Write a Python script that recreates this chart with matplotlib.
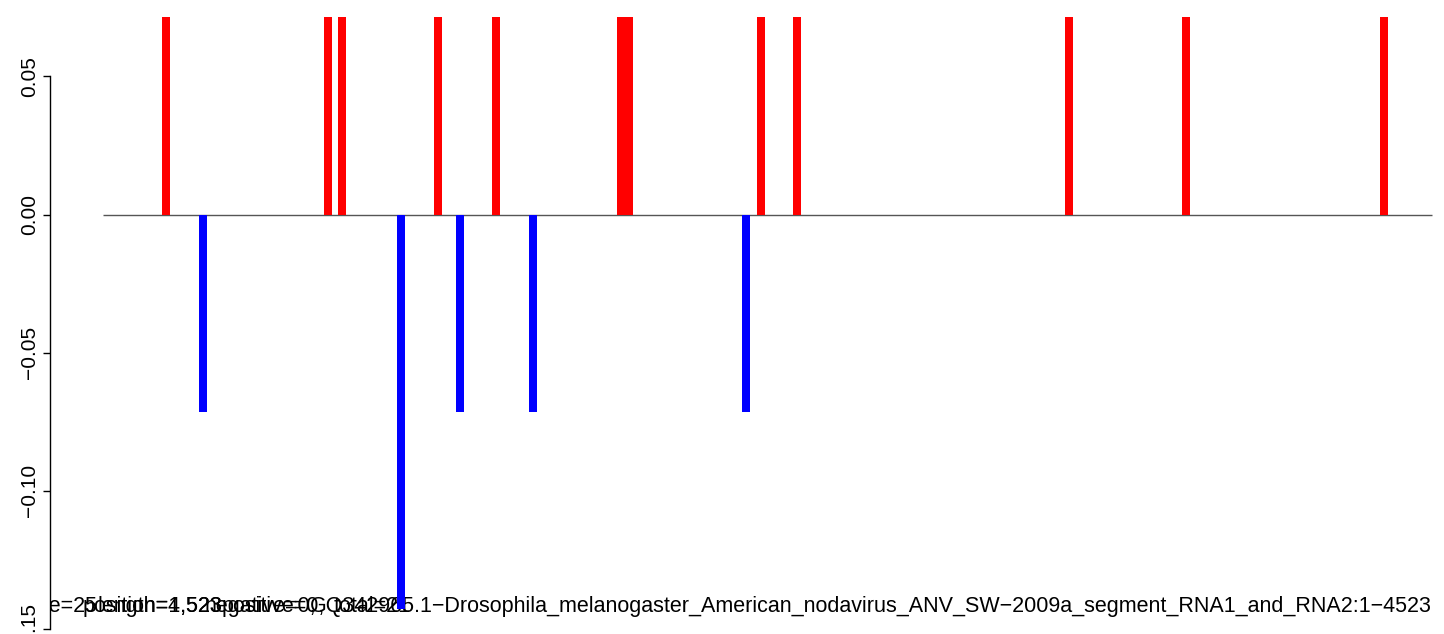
import matplotlib
matplotlib.use("Agg")
import matplotlib.pyplot as plt

# genome positions (bp) and scores
pos_red = [215, 766, 814, 1141, 1338, 1763, 1791, 2240, 2362, 3288, 3686, 4360]
val_red = [0.0714] * len(pos_red)
pos_blue = [341, 1015, 1216, 1464, 2189]
val_blue = [-0.0714, -0.1429, -0.0714, -0.0714, -0.0714]

genome_len = 4523
yticks = [-0.15, -0.10, -0.05, 0.00, 0.05]
ytick_labels = ["\u22120.15", "\u22120.10", "\u22120.05", "0.00", "0.05"]

# overlapping info labels along the bottom
info_txt = ["window size=25", "position=1,523", "length=4,523", "negative=0,",
            "positive=0,", "total=21"]
name_label = "GQ342965.1\u2212Drosophila_melanogaster_American_nodavirus_ANV_SW\u22122009a_segment_RNA1_and_RNA2:1\u22124523"

plt.rcParams['font.family'] = ['Liberation Sans', 'DejaVu Sans']

fig = plt.figure(figsize=(14.44, 6.34), dpi=100)
ax = fig.add_axes([50 / 1444, 5 / 634, 1 - 50 / 1444, 614 / 634])
ax.set_xlim(-179, 4564)
ax.set_ylim(-0.15, 0.0722)

ax.bar(pos_red, val_red, width=27, color="#ff0000", zorder=3)
ax.bar(pos_blue, val_blue, width=27, color="#0000ff", zorder=3)
ax.hlines(0, 1, genome_len, color="#555555", lw=1.0, zorder=2)

ty = -0.1417
fs = 15.5
info_x = [-20, -67, -16, 348, 406, 787]
info_ha = ["right", "left", "left", "left", "left", "left"]
for x, s, ha in zip(info_x, info_txt, info_ha):
    ax.text(x, ty, s, fontsize=fs, ha=ha, va="center", clip_on=True, zorder=1)
ax.text(genome_len, ty, name_label, fontsize=fs, ha="right", va="center",
        clip_on=True, zorder=1)

for sp in ["top", "right", "bottom"]:
    ax.spines[sp].set_visible(False)
ax.spines["left"].set_bounds(-0.15, 0.05)
ax.spines["left"].set_linewidth(1.0)
ax.set_xticks([])
ax.set_yticks(yticks)
ax.set_yticklabels(ytick_labels, rotation=90, va="center", fontsize=15)
ax.tick_params(axis="y", length=5, width=1, pad=3)

fig.savefig("out.png", dpi=100)
